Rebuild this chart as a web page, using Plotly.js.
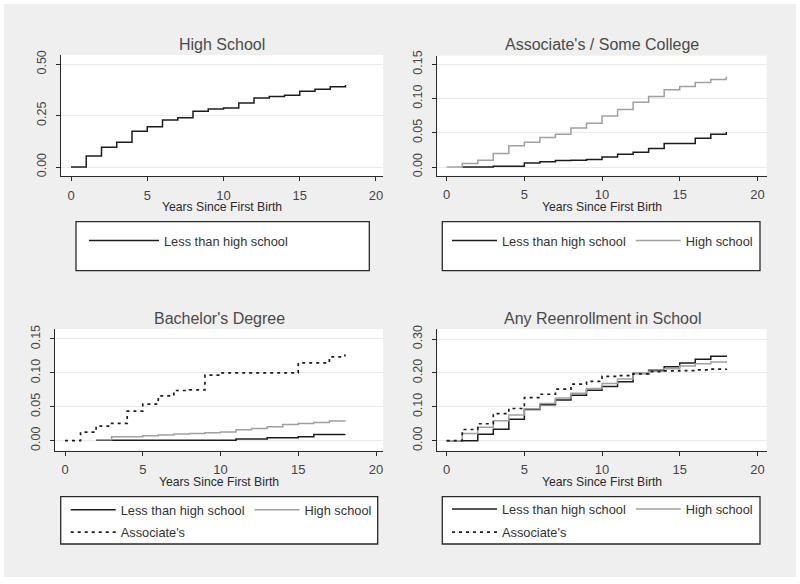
<!DOCTYPE html>
<html>
<head>
<meta charset="utf-8">
<script src="https://cdn.plot.ly/plotly-3.0.1.min.js"></script>
<style>
  html, body { margin: 0; padding: 0; background: #ffffff; width: 800px; height: 584px; overflow: hidden; }
  #chart { position: absolute; left: 4px; top: 4px; width: 792px; height: 573px; }
</style>
</head>
<body>
<div id="chart"></div>
<script>
// ---------------- DATA ----------------
const panelTitles = ["High School", "Associate's / Some College", "Bachelor's Degree", "Any Reenrollment in School"];
const xTitle = "Years Since First Birth";
const seriesNames = ["Less than high school", "High school", "Associate's"];

const years0 = [0,1,2,3,4,5,6,7,8,9,10,11,12,13,14,15,16,17,18];
const years1 = [1,2,3,4,5,6,7,8,9,10,11,12,13,14,15,16,17,18];
const years2 = [2,3,4,5,6,7,8,9,10,11,12,13,14,15,16,17,18];

// Panel 1: High School
const hsLess = [0,0.054,0.096,0.120,0.174,0.196,0.229,0.240,0.271,0.282,0.287,0.312,0.336,0.343,0.349,0.369,0.378,0.391,0.399];

// Panel 2: Associate's / Some College
const acLess = [0,0,0.001,0.001,0.006,0.0078,0.0095,0.0098,0.011,0.0147,0.0186,0.0216,0.027,0.0345,0.0345,0.042,0.048,0.051];
const acHS = [0,0.005,0.010,0.0196,0.031,0.036,0.043,0.048,0.057,0.064,0.0745,0.084,0.0946,0.103,0.113,0.1176,0.1235,0.128,0.132];

// Panel 3: Bachelor's Degree
const baLess = [0.0005,0.0005,0.0005,0.0005,0.0005,0.0005,0.0005,0.0005,0.0005,0.0025,0.0025,0.0044,0.0044,0.006,0.0093,0.0093,0.0095];
const baHS = [0.0015,0.006,0.006,0.0073,0.0085,0.0098,0.0105,0.0118,0.013,0.016,0.018,0.0206,0.024,0.0255,0.027,0.029,0.030];
const baAssoc = [0,0.0125,0.0216,0.0255,0.0436,0.054,0.066,0.074,0.075,0.0966,0.100,0.100,0.100,0.100,0.100,0.1147,0.1147,0.1235,0.127];

// Panel 4: Any Reenrollment in School
const anyLess = [0,0,0.019,0.034,0.063,0.092,0.106,0.120,0.134,0.149,0.160,0.174,0.198,0.208,0.218,0.229,0.240,0.249,0.251];
const anyHS = [0,0.021,0.040,0.059,0.076,0.094,0.110,0.126,0.140,0.154,0.169,0.182,0.199,0.205,0.212,0.220,0.227,0.232,0.235];
const anyAssoc = [0,0.033,0.050,0.080,0.095,0.127,0.137,0.152,0.167,0.175,0.190,0.192,0.197,0.204,0.206,0.207,0.209,0.211,0.212];

// ---------------- LAYOUT HELPERS ----------------
const W = 792, H = 573, OX = 4, OY = 4;
const px = x => (x - OX) / W;
const py = y => 1 - (y - OY) / H;

const FONT = '"Liberation Sans", Arial, sans-serif';
const BLACK = '#1c1c1c', GRAY = '#a0a0a0';

function step(x, y, color, dash, name, xa, ya, legend) {
  return {
    type: 'scatter', mode: 'lines', x: x, y: y, name: name,
    xaxis: xa, yaxis: ya, legend: legend, showlegend: true,
    line: { shape: 'hv', color: color, width: dash === 'solid' ? 1.5 : 1.7, dash: dash },
    hoverinfo: 'skip'
  };
}
const DOT = '3px,4px';

const traces = [
  step(years0, hsLess, BLACK, 'solid', seriesNames[0], 'x', 'y', 'legend'),

  step(years1, acLess, BLACK, 'solid', seriesNames[0], 'x2', 'y2', 'legend2'),
  step(years0, acHS, GRAY, 'solid', seriesNames[1], 'x2', 'y2', 'legend2'),

  step(years2, baLess, BLACK, 'solid', seriesNames[0], 'x3', 'y3', 'legend3'),
  step(years2, baHS, GRAY, 'solid', seriesNames[1], 'x3', 'y3', 'legend3'),
  step(years0, baAssoc, BLACK, DOT, seriesNames[2], 'x3', 'y3', 'legend5'),

  step(years0, anyLess, BLACK, 'solid', seriesNames[0], 'x4', 'y4', 'legend4'),
  step(years0, anyHS, GRAY, 'solid', seriesNames[1], 'x4', 'y4', 'legend4'),
  step(years0, anyAssoc, BLACK, DOT, seriesNames[2], 'x4', 'y4', 'legend6')
];

// plot areas in pixels: [left, right, top, bottom]
const boxes = [
  [61, 383, 55, 176],
  [437.3, 766.7, 55.7, 175.7],
  [55, 383, 329, 450.7],
  [437.3, 766.7, 329, 450.7]
];
const xRanges = [[-0.656, 20.46], [-0.605, 20.6], [-0.643, 20.45], [-0.605, 20.6]];
const yRanges = [[-0.0438, 0.545], [-0.0127, 0.1626], [-0.01475, 0.1647], [-0.0295, 0.3295]];
const yDticks = [0.25, 0.05, 0.05, 0.10];

const layout = {
  width: W, height: H,
  margin: { l: 0, r: 0, t: 0, b: 0, pad: 0, autoexpand: false },
  paper_bgcolor: '#efefef',
  plot_bgcolor: '#ffffff',
  font: { family: FONT, color: '#333333' },
  annotations: [],
  shapes: []
};

boxes.forEach((b, i) => {
  const sfx = i === 0 ? '' : String(i + 1);
  layout['xaxis' + sfx] = {
    domain: [px(b[0]), px(b[1])], range: xRanges[i], anchor: 'y' + sfx,
    showgrid: false, zeroline: false, showline: true, linecolor: '#2a2a2a', linewidth: 1,
    ticks: 'outside', ticklen: 4, tickcolor: '#2a2a2a', tickmode: 'linear', tick0: 0, dtick: 5,
    tickfont: { family: FONT, size: 13, color: '#444444' }, ticklabelstandoff: 3, fixedrange: true
  };
  layout['yaxis' + sfx] = {
    domain: [py(b[3]), py(b[2])], range: yRanges[i], anchor: 'x' + sfx,
    showgrid: true, gridcolor: '#e9e9e9', gridwidth: 1, zeroline: false,
    showline: true, linecolor: '#2a2a2a', linewidth: 1,
    ticks: 'outside', ticklen: 4, tickcolor: '#2a2a2a', tickmode: 'linear', tick0: 0, dtick: yDticks[i],
    tickformat: '.2f', tickangle: -90,
    tickfont: { family: FONT, size: 12.5, color: '#444444' }, ticklabelstandoff: 5, fixedrange: true
  };
  const cx = px((b[0] + b[1]) / 2);
  layout.annotations.push({
    text: panelTitles[i], xref: 'paper', yref: 'paper', x: cx, y: py(b[2] - 11),
    xanchor: 'center', yanchor: 'middle', showarrow: false,
    font: { family: FONT, size: 16, color: '#4a4a4a' }
  });
  layout.annotations.push({
    text: xTitle, xref: 'paper', yref: 'paper', x: cx, y: py(b[3] + 31),
    xanchor: 'center', yanchor: 'middle', showarrow: false,
    font: { family: FONT, size: 12.2, color: '#2a2a2a' }
  });
});

// legend frames
const frames = [[76, 369.3, 221.7, 270.7], [442.3, 760, 221.7, 270.7], [60.7, 377.7, 496.7, 544], [442.3, 760, 496.7, 544]];
frames.forEach(f => {
  layout.shapes.push({
    type: 'rect', xref: 'paper', yref: 'paper', layer: 'below',
    x0: px(f[0]), x1: px(f[1]), y0: py(f[3]), y1: py(f[2]),
    fillcolor: '#ffffff', line: { color: '#2a2a2a', width: 1.3 }
  });
});

const legFont = { family: FONT, size: 12.8, color: '#333333' };
function leg(x, y, iw) {
  return {
    x: px(x), y: py(y), xanchor: 'left', yanchor: 'middle', orientation: 'h',
    bgcolor: 'rgba(0,0,0,0)', borderwidth: 0, font: legFont, itemwidth: iw,
    traceorder: 'normal', itemclick: false, itemdoubleclick: false
  };
}
layout.legend = leg(84, 240.7, 70);
layout.legend2 = leg(447, 240.7, 45);
layout.legend3 = leg(65.7, 510, 45);
layout.legend5 = leg(65.7, 532.3, 45);
layout.legend4 = leg(447, 509.3, 45);
layout.legend6 = leg(447, 532.3, 45);

Plotly.newPlot('chart', traces, layout, { staticPlot: true, displayModeBar: false });
</script>
</body>
</html>
